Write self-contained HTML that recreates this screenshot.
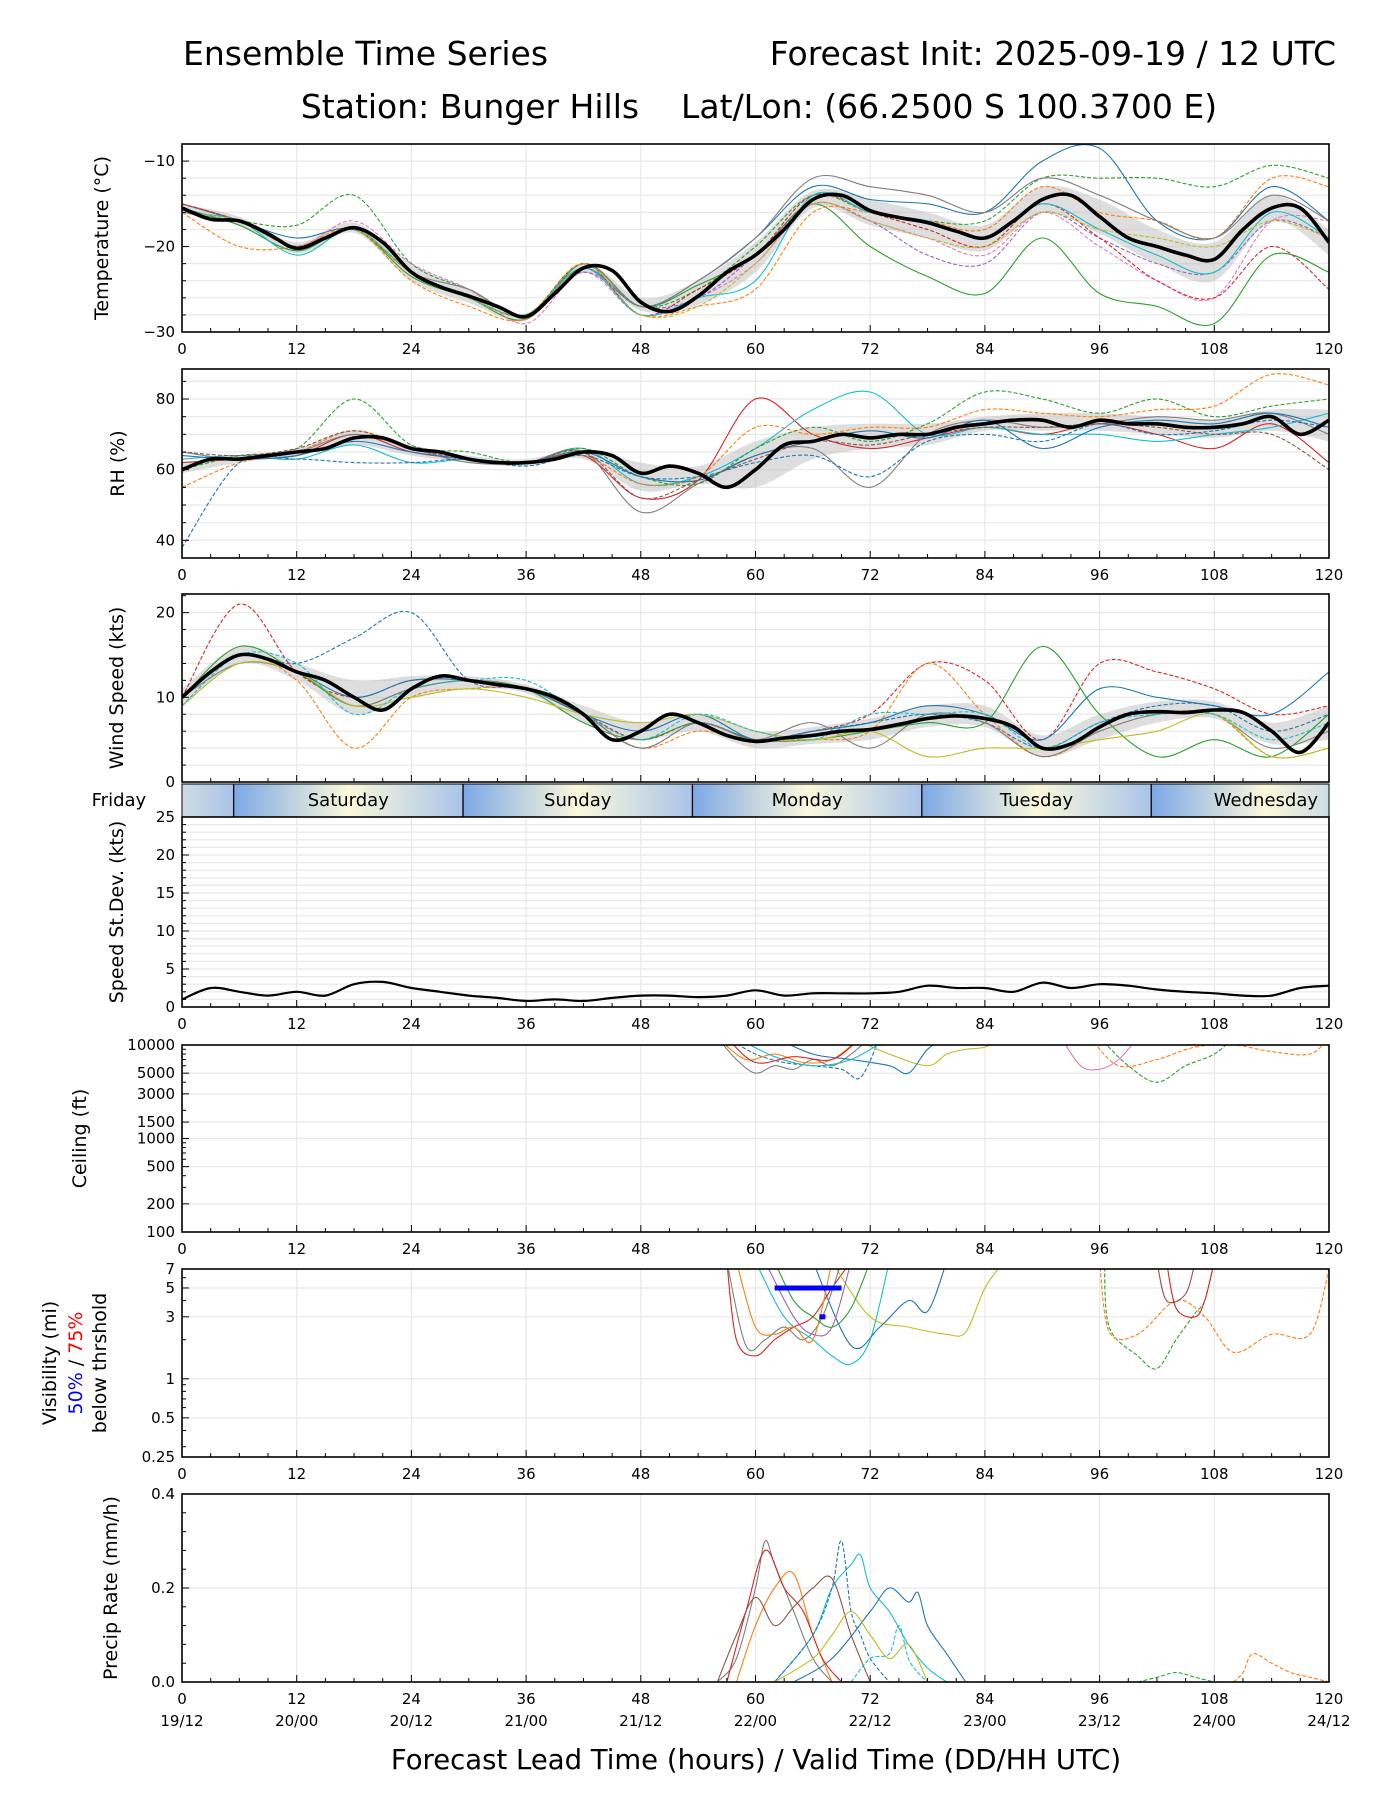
<!DOCTYPE html>
<html><head><meta charset="utf-8"><title>Ensemble Time Series</title>
<style>
html,body{margin:0;padding:0;background:#fff;}
svg{display:block;font-family:"DejaVu Sans","Liberation Sans",sans-serif;}
</style></head>
<body>
<svg id="chart" width="1400" height="1800" viewBox="0 0 1400 1800" xmlns="http://www.w3.org/2000/svg">
<rect width="1400" height="1800" fill="#fff"/>
<text x="183" y="65" font-size="33">Ensemble Time Series</text>
<text x="1336" y="65" font-size="33" text-anchor="end">Forecast Init: 2025-09-19 / 12 UTC</text>
<text x="759" y="118" font-size="33" text-anchor="middle" xml:space="preserve">Station: Bunger Hills    Lat/Lon: (66.2500 S 100.3700 E)</text>
<g id="layer"></g>
<text x="756" y="1769" font-size="27.5" text-anchor="middle">Forecast Lead Time (hours) / Valid Time (DD/HH UTC)</text>
</svg>
<script>
// ---------- data ----------
const hours3 = [0,3,6,9,12,15,18,21,24,27,30,33,36,39,42,45,48,51,54,57,60,63,66,69,72,75,78,81,84,87,90,93,96,99,102,105,108,111,114,117,120];
const hours6 = [0,6,12,18,24,30,36,42,48,54,60,66,72,78,84,90,96,102,108,114,120];
const xTicks = [0,12,24,36,48,60,72,84,96,108,120];
const dateLabels = ["19/12","20/00","20/12","21/00","21/12","22/00","22/12","23/00","23/12","24/00","24/12"];
const dayNames = ["Friday","Saturday","Sunday","Monday","Tuesday","Wednesday"];
const dayStarts = [5.4,29.4,53.4,77.4,101.4];

const tempMean = [-15.5,-16.8,-17,-18.5,-20.2,-19,-17.8,-19.5,-23,-24.7,-25.8,-27,-28.2,-25.5,-22.5,-22.8,-26.5,-27.6,-25.8,-23,-21,-18,-14.5,-14,-15.8,-16.6,-17.2,-18.2,-19,-17,-14.5,-14,-16.5,-19,-20,-21,-21.5,-18,-15.5,-15.5,-19.5];
const tempHi = [-15,-16.5,-19.5,-17.2,-22,-25,-27.8,-22,-26,-24,-19.5,-13.5,-14.5,-16,-17.5,-13,-14.5,-18,-19.5,-14,-18];
const tempLo = [-16,-17.5,-20.8,-18.4,-24,-26.6,-28.6,-23,-27.5,-26.8,-23,-15.5,-17.5,-19,-20.5,-16,-18.5,-22,-24,-17,-21];
const tempM1 = [-15,-17,-19,-18,-23,-26,-28,-22.5,-27,-24,-19,-13,-14.5,-15,-16,-10,-8.5,-17,-19,-13,-17];
const tempM2 = [-15.5,-17.5,-20.5,-18,-23.5,-26,-28.5,-22,-27,-24.5,-21,-15,-20,-23.5,-25.5,-19,-25.5,-27,-29,-21,-23];
const tempM3 = [-16,-17,-17.5,-14,-22,-25,-28,-22,-27,-25,-20,-14,-16,-17,-17,-12,-12,-12,-13,-10.5,-12];
const tempM4 = [-16,-20,-20,-18,-24,-27,-28.5,-22.5,-28,-27,-25,-16,-16,-17,-18,-13,-16,-17,-19,-12,-13];
const tempM5 = [-16,-17,-20,-17,-22,-25,-29,-23,-28,-26,-22,-15,-17,-19,-21,-16,-20,-24,-26,-17,-17];
const tempM6 = [-16,-17,-20,-18,-23,-26,-28,-23,-27,-26,-21,-15,-17,-21,-22,-16,-19,-22,-23,-17,-19];
const tempM7 = [-15,-17,-20,-18,-23,-25,-28,-22,-27,-24,-19,-12,-13,-14,-16,-12,-14,-17,-19,-14,-17];
const tempM8 = [-15,-17,-20,-18,-23,-26,-28,-22,-28,-25,-21,-14,-16,-18,-20,-15,-19,-24,-26,-20,-25];
const tempM9 = [-16,-17,-21,-18,-23,-26,-28,-22.5,-28,-26,-24,-14,-16,-17,-19,-15,-18,-21,-23,-16,-19];
const tempM10 = [-16,-17,-20,-18,-23,-26,-28,-22,-28,-27,-22,-15,-17,-19,-20,-16,-18,-19,-20,-17,-19];

const rhMean = [60,63,63,64,65,66,69,69,66,65,63,62,62,63,65,64,59,61,59,55,60,67,68,70,69,70,70,72,73,74,74,72,74,73,73,72,72,73,75,70,74];
const rhHi = [62,64,66,71,67,64,63,66,62,61,68,72,73,73,75,76,76,75,74,77,77];
const rhLo = [59,62,64,67,64,62,61,63,54,56,55,63,66,67,71,71,71,70,69,71,68];
const rhM1 = [62,63,64,70,65,63,62,64,52,57,80,70,66,69,72,70,73,70,66,73,62];
const rhM2 = [63,64,63,67,62,63,62,66,56,58,66,77,82,70,72,70,70,68,70,72,76];
const rhM3 = [65,63,65,70,66,62,62,65,48,56,64,66,55,70,74,72,73,75,74,76,70];
const rhM4 = [60,64,66,80,67,65,62,66,58,56,66,72,68,73,82,80,76,80,75,78,80];
const rhM5 = [55,62,65,71,66,63,62,64,56,58,72,70,72,72,77,76,75,77,78,87,84];
const rhM6 = [38,62,63,62,62,63,61,64,58,58,62,64,58,68,70,68,73,70,71,74,72];
const rhM7 = [64,63,64,68,65,63,62,65,58,57,64,68,71,69,74,66,72,74,73,76,72];
const rhM8 = [65,64,66,71,66,63,62,65,52,57,63,68,67,70,72,72,73,72,70,70,60];

const windMean = [10,13,15,14.5,13,12,10,8.5,11,12.5,12,11.5,11,10,8,5,6,8,7,5.5,4.8,5.2,5.5,6,6.2,6.8,7.5,7.8,7.5,6.5,4,4.5,6.5,8,8.3,8.2,8.5,8.2,6,3.5,7];
const windHi = [11,16,14,12,12.5,12.5,11.5,9,7,8,6,6.5,7.5,9,9,5.5,8,9.5,9.5,7,9];
const windLo = [9,14,12,8,10,11,10.5,7,5,6,4,4.5,5,6.5,6.5,3,5,7,7.5,4.5,5];
const windM1 = [10,21,13,10,12,12,11,8,5,7,5,6,8,14,12,5,14,13,11,8,9];
const windM2 = [10,16,13,9,11,12,11,7,5,7,5,5,6,7,7,16,8,3,5,3,8];
const windM3 = [10,15,14,17,20,12,11,8,4,7,5,6,7,8,7,4,7,9,9,6,8];
const windM4 = [10,15,13,10,12,12,11,8,6,8,5,6,7,9,8,5,11,10,9,8,13];
const windM5 = [10,15,12,4,10,11,11,8,4,6,5,5,6,14,8,3,6,8,8,3,4];
const windM6 = [10,14,13,9,11,12,11,8,4,7,5,7,4,8,7,3,6,8,8,4,6];
const windM7 = [9,14,13,9,10,11,10,8,7,8,6,5,6,3,4,4,5,6,8,3,4];
const windM8 = [9,15,14,8,11,12,12,8,5,8,6,5,8,8,8,4,7,8,8,5,7];

const sdev = [1,2.5,2,1.5,2,1.5,3,3.3,2.5,2,1.5,1.2,0.8,1,0.8,1.2,1.5,1.5,1.3,1.5,2.2,1.5,1.8,1.8,1.8,2,2.8,2.5,2.5,2,3.2,2.5,3,2.8,2.3,2,1.8,1.5,1.5,2.5,2.8];

const ceilH1=[56,58,60,62,64,66,68,70,72], ceilV1=[12000,7000,5000,6000,5500,7000,6000,8000,12000];
const ceilH2=[57,60,63,66,69,71,73], ceilV2=[12000,8000,6500,6000,5500,4500,12000];
const ceilH3=[70,74,78,80,82,84,86], ceilV3=[12000,8000,6000,8000,9000,9500,12000];
const ceilH4=[62,66,70,74,76,78,80], ceilV4=[12000,8000,7000,6000,5000,9000,12000];
const ceilH5=[96,99,102,105,108,110], ceilV5=[12000,6000,4000,6000,8000,12000];
const ceilH6=[92,94,96,98,100], ceilV6=[12000,6000,5500,7000,12000];
const ceilH7=[95,98,102,106,110,114,118,120], ceilV7=[12000,6000,7000,9500,10000,8500,8000,12000];
const ceilH8=[56,59,62,65,68,71], ceilV8=[12000,7000,8000,6500,7000,12000];
const ceilH9=[58,62,66,70,74], ceilV9=[12000,7500,6000,7000,12000];
const ceilH10=[57,60,64,68,71], ceilV10=[12000,6500,7500,7000,12000];

const visH1=[57,58,60,62,64,66,68,70], visV1=[8,2,1.5,2,2.5,3,5,8];
const visH2=[60,63,66,68,70,72,74], visV2=[8,3,2,1.5,1.3,2,8];
const visH3=[68,72,76,80,82,84,86], visV3=[8,3,2.5,2.2,2.3,5,8];
const visH4=[66,70,73,76,78,80], visV4=[8,1.8,2.5,4,3.3,8];
const visH5=[96.5,97,100,102,104,106,107,108], visV5=[8,2.5,1.5,1.2,2,3.2,4,8];
const visH6=[96,97,100,104,107,110,114,118,120], visV6=[8,2.3,2.2,4,3,1.6,2.2,2.2,7];
const visH7=[103,104,106,107,108], visV7=[8,3.5,3,4,8];
const visH8=[102,103,105,106], visV8=[8,4,4.5,8];
const visH9=[57,59,61,63,65,67,69], visV9=[8,1.8,2,2.5,2,3,8];
const visH10=[58,60,62,64,66,68], visV10=[8,2.5,2.2,2.5,2,8];
const visH11=[61,64,66,68,70], visV11=[8,3,2.2,2.5,8];
const visH12=[62,64,66,68,70,72], visV12=[8,4,3,2.5,3.5,8];
const vis50Start=62, vis50End=69, vis50Value=5;
const vis75Hour=67, vis75Value=3;

const prH1=[56,58,60,61,62,64,66,68], prV1=[0,0.05,0.2,0.3,0.25,0.15,0.05,0];
const prH2=[62,66,68,70,71,72,74,76,78,80], prV2=[0,0.1,0.2,0.25,0.27,0.2,0.15,0.08,0.03,0];
const prH3=[64,68,72,74,76,77,78,80,82], prV3=[0,0.05,0.15,0.2,0.17,0.19,0.12,0.06,0];
const prH4=[58,60,62,64,66,68], prV4=[0,0.12,0.2,0.23,0.1,0];
const prH5=[57,59,61,63,65,67,69], prV5=[0,0.15,0.28,0.2,0.15,0.05,0];
const prH6=[62,66,68,69,70,71,72,74], prV6=[0,0.1,0.2,0.3,0.15,0.1,0.05,0];
const prH7=[56,58,60,62,64,66,68,70,72], prV7=[0,0.1,0.18,0.12,0.16,0.2,0.22,0.1,0];
const prH8=[62,66,68,70,72,74,76,78], prV8=[0,0.05,0.1,0.15,0.1,0.05,0.08,0];
const prH9=[70,72,74,75,76,77,78], prV9=[0,0.05,0.06,0.12,0.05,0.02,0];
const prH10=[110,111,112,114,116,118,120], prV10=[0,0.02,0.06,0.04,0.02,0.01,0];
const prH11=[100,102,104,106,108], prV11=[0,0.01,0.02,0.01,0];

// ---------- drawing ----------
const NS="http://www.w3.org/2000/svg";
const layer=document.getElementById('layer');
const X0=182, X1=1329;
function xS(h){return X0+h*(X1-X0)/120;}
function mk(tag,attrs,parent){const e=document.createElementNS(NS,tag);for(const k in attrs)e.setAttribute(k,attrs[k]);(parent||layer).appendChild(e);return e;}
function yScale(p){return function(v){
  if(p.log){const a=Math.log10(p.ymin),b=Math.log10(p.ymax);return p.bot-(Math.log10(v)-a)/(b-a)*(p.bot-p.top);}
  return p.bot-(v-p.ymin)/(p.ymax-p.ymin)*(p.bot-p.top);};}
function smoothPath(pts){
  if(pts.length<2)return '';
  let d='M'+pts[0][0].toFixed(1)+','+pts[0][1].toFixed(1);
  for(let i=0;i<pts.length-1;i++){
    const p0=pts[i-1]||pts[i],p1=pts[i],p2=pts[i+1],p3=pts[i+2]||p2;
    const c1=[p1[0]+(p2[0]-p0[0])/6,p1[1]+(p2[1]-p0[1])/6];
    const c2=[p2[0]-(p3[0]-p1[0])/6,p2[1]-(p3[1]-p1[1])/6];
    d+='C'+c1[0].toFixed(1)+','+c1[1].toFixed(1)+' '+c2[0].toFixed(1)+','+c2[1].toFixed(1)+' '+p2[0].toFixed(1)+','+p2[1].toFixed(1);
  }
  return d;
}
let clipN=0;
function panel(p){
  const y=yScale(p);p.y=y;
  const g=mk('g',{});
  
  
  p.g=g;
  p.grid.forEach(v=>{const l=mk('line',{x1:X0,x2:X1,y1:y(v),y2:y(v),stroke:'#e8e8e8','stroke-width':1.2},g);
    });
  xTicks.forEach(h=>{const l=mk('line',{x1:xS(h),x2:xS(h),y1:p.top,y2:p.bot,stroke:'#e8e8e8','stroke-width':1.2},g);
    });
  const id='clip'+(clipN++);
  const cp=mk('clipPath',{id:id},g);mk('rect',{x:X0,y:p.top,width:X1-X0,height:p.bot-p.top},cp);
  p.plot=mk('g',{'clip-path':'url(#'+id+')'},g);
  
  
  return p;
}
function finishPanel(p,showX,hideXLabels){
  const g=p.g,y=p.y;
  const fr=mk('rect',{x:X0,y:p.top,width:X1-X0,height:p.bot-p.top,fill:'none',stroke:'#000','stroke-width':1.6},g);
  
  for(let h=0;h<=120;h+=3){const maj=h%12===0;const L=maj?7:4;
    const t=mk('line',{x1:xS(h),x2:xS(h),y1:p.bot,y2:p.bot-L,stroke:'#000','stroke-width':1},g);
    }
  p.ticks.forEach(v=>{const t=mk('line',{x1:X0,x2:X0+7,y1:y(v),y2:y(v),stroke:'#000','stroke-width':1},g);
    
    const tx=mk('text',{x:X0-7,y:y(v)+5,'font-size':15,'text-anchor':'end'},g);tx.textContent=(p.fmt?p.fmt(v):String(v)).replace('-','\u2212');
    });
  (p.minor||[]).forEach(v=>{const t=mk('line',{x1:X0,x2:X0+4,y1:y(v),y2:y(v),stroke:'#000','stroke-width':1},g);
    });
  if(!hideXLabels) xTicks.forEach((h,i)=>{const tx=mk('text',{x:xS(h),y:p.bot+22,'font-size':15,'text-anchor':'middle'},g);tx.textContent=h;
    
    if(showX){const d=mk('text',{x:xS(h),y:p.bot+44,'font-size':15,'text-anchor':'middle'},g);d.textContent=dateLabels[i];
      }});
  const cy=(p.top+p.bot)/2;
  p.label.forEach((ln,i)=>{const tx=mk('text',{x:0,y:0,'font-size':19,'text-anchor':'middle',transform:'translate('+ln.x+','+cy+') rotate(-90)'},g);
    
    ln.parts.forEach(pt=>{const s=mk('tspan',{fill:pt[1]||'#000'},tx);s.textContent=pt[0];});});
}
function line(p,hs,vs,color,dash,width,name){
  const pts=hs.map((h,i)=>[xS(h),p.y(vs[i])]);
  const a={d:smoothPath(pts),fill:'none',stroke:color,'stroke-width':width||1.2,'stroke-linejoin':'round'};
  if(dash)a['stroke-dasharray']='4,2';
  const e=mk('path',a,p.plot);
  
  
  return e;
}
function band(p,hs,lo,hi,name){
  const top=hs.map((h,i)=>[xS(h),p.y(hi[i])]);const bot=hs.map((h,i)=>[xS(h),p.y(lo[i])]).reverse();
  const d=smoothPath(top)+'L'+smoothPath(bot).slice(1)+'Z';
  const e=mk('path',{d:d,fill:'#bdbdbd','fill-opacity':0.5,stroke:'none'},p.plot);
  
  
}
const C=['#1f77b4','#ff7f0e','#2ca02c','#d62728','#9467bd','#8c564b','#e377c2','#7f7f7f','#bcbd22','#17becf'];

// Temperature
const pT=panel({name:'temperature',top:144,bot:332,ymin:-30,ymax:-8,ticks:[-30,-20,-10],minor:[-28,-26,-24,-22,-18,-16,-14,-12],grid:[-28,-26,-24,-22,-20,-18,-16,-14,-12,-10],label:[{x:108,parts:[['Temperature (°C)']]}]});
band(pT,hours6,tempLo,tempHi,'temperature-spread-band');
[[tempM1,C[0],0],[tempM2,C[2],0],[tempM3,C[2],1],[tempM4,C[1],1],[tempM5,C[6],1],[tempM6,C[4],1],[tempM7,C[7],0],[tempM8,C[3],1],[tempM9,C[9],0],[tempM10,C[8],1]].forEach((m,i)=>line(pT,hours6,m[0],m[1],m[2],1.1,'temperature-member-'+(i+1)));
line(pT,hours3,tempMean,'#000',0,3.6,'temperature-ensemble-mean');
finishPanel(pT,false);

// RH
const pR=panel({name:'rh',top:369,bot:558,ymin:35,ymax:88.5,ticks:[40,60,80],minor:[45,50,55,65,70,75,85],grid:[40,45,50,55,60,65,70,75,80,85],label:[{x:124,parts:[['RH (%)']]}]});
band(pR,hours6,rhLo,rhHi,'rh-spread-band');
[[rhM1,C[3],0],[rhM2,C[9],0],[rhM3,C[7],0],[rhM4,C[2],1],[rhM5,C[1],1],[rhM6,C[0],1],[rhM7,C[0],0],[rhM8,C[5],1]].forEach((m,i)=>line(pR,hours6,m[0],m[1],m[2],1.1,'rh-member-'+(i+1)));
line(pR,hours3,rhMean,'#000',0,3.6,'rh-ensemble-mean');
finishPanel(pR,false);

// Wind
const pW=panel({name:'wind-speed',top:594,bot:782,ymin:0,ymax:22.2,ticks:[0,10,20],minor:[2,4,6,8,12,14,16,18,22],grid:[2,4,6,8,10,12,14,16,18,20],label:[{x:123,parts:[['Wind Speed (kts)']]}]});
band(pW,hours6,windLo,windHi,'wind-spread-band');
[[windM1,C[3],1],[windM2,C[2],0],[windM3,C[0],1],[windM4,C[0],0],[windM5,C[1],1],[windM6,C[7],0],[windM7,C[8],0],[windM8,C[9],1]].forEach((m,i)=>line(pW,hours6,m[0],m[1],m[2],1.1,'wind-member-'+(i+1)));
line(pW,hours3,windMean,'#000',0,3.6,'wind-ensemble-mean');
finishPanel(pW,false,true);

// Day bar
(function(){
  const top=784,bot=817;
  const defs=mk('defs',{});
  const g=mk('g',{});
  const starts=[-18.6].concat(dayStarts);
  starts.forEach((s,i)=>{
    const gid='dayGrad'+i;
    const gr=mk('linearGradient',{id:gid,gradientUnits:'userSpaceOnUse',x1:xS(s),x2:xS(s+24),y1:0,y2:0},defs);
    mk('stop',{offset:'0','stop-color':'#7da8e6'},gr);mk('stop',{offset:'0.5','stop-color':'#fbf9dc'},gr);mk('stop',{offset:'1','stop-color':'#a9c4ea'},gr);
    const a=Math.max(s,0),b=Math.min(s+24,120);
    const r=mk('rect',{x:xS(a),y:top,width:xS(b)-xS(a),height:bot-top,fill:'url(#'+gid+')'},g);
    
    const t=mk('text',{x:xS(s+12),y:top+22,'font-size':18,'text-anchor':'middle'},g);t.textContent=dayNames[i];
    
  });
  dayStarts.forEach(h=>{const l=mk('line',{x1:xS(h),x2:xS(h),y1:top,y2:bot,stroke:'#000','stroke-width':1.3},g);});
  const fr=mk('rect',{x:X0,y:top,width:X1-X0,height:bot-top,fill:'none',stroke:'#000','stroke-width':1},g);
})();

// Std dev
const pS=panel({name:'speed-stdev',top:817,bot:1007,ymin:0,ymax:25,ticks:[0,5,10,15,20,25],minor:[1,2,3,4,6,7,8,9,11,12,13,14,16,17,18,19,21,22,23,24],grid:[1,2,3,4,5,6,7,8,9,10,11,12,13,14,15,16,17,18,19,20,21,22,23,24],label:[{x:123,parts:[['Speed St.Dev. (kts)']]}]});
line(pS,hours3,sdev,'#000',0,2.2,'speed-stdev-line');
finishPanel(pS,false);

// Ceiling
const pC=panel({name:'ceiling',top:1045,bot:1232,ymin:100,ymax:10000,log:true,ticks:[100,200,500,1000,1500,3000,5000,10000],minor:[300,400,600,700,800,900,2000,4000,6000,7000,8000,9000],grid:[200,500,1000,1500,3000,5000],label:[{x:86,parts:[['Ceiling (ft)']]}]});
[[ceilH1,ceilV1,C[7],0],[ceilH2,ceilV2,C[0],1],[ceilH3,ceilV3,C[8],0],[ceilH4,ceilV4,C[0],0],[ceilH5,ceilV5,C[2],1],[ceilH6,ceilV6,C[6],0],[ceilH7,ceilV7,C[1],1],[ceilH8,ceilV8,C[1],0],[ceilH9,ceilV9,C[9],0],[ceilH10,ceilV10,C[3],0]].forEach((m,i)=>line(pC,m[0],m[1],m[2],m[3],1.1,'ceiling-member-'+(i+1)));
finishPanel(pC,false);

// Visibility
const pV=panel({name:'visibility',top:1269,bot:1457,ymin:0.25,ymax:7,log:true,ticks:[0.25,0.5,1,3,5,7],minor:[0.3,0.4,0.6,0.7,0.8,0.9,2,4,6],grid:[0.5,1,3,5],label:[{x:56,parts:[['Visibility (mi)']]},{x:82,parts:[['50%','#0000ff'],[' / '],['75%','#ff0000']]},{x:106,parts:[['below thrshold']]}]});
[[visH1,visV1,C[3],0],[visH2,visV2,C[9],0],[visH3,visV3,C[8],0],[visH4,visV4,C[0],0],[visH5,visV5,C[2],1],[visH6,visV6,C[1],1],[visH7,visV7,C[3],0],[visH8,visV8,C[5],0],[visH9,visV9,C[7],0],[visH10,visV10,C[1],0],[visH11,visV11,C[4],0],[visH12,visV12,C[2],0]].forEach((m,i)=>line(pV,m[0],m[1],m[2],m[3],1.1,'visibility-member-'+(i+1)));
(function(){const e=mk('line',{x1:xS(vis50Start),x2:xS(vis50End),y1:pV.y(vis50Value),y2:pV.y(vis50Value),stroke:'#0000ff','stroke-width':5},pV.plot);

const d=mk('rect',{x:xS(vis75Hour)-3,y:pV.y(vis75Value)-2.5,width:6,height:5,fill:'#0000ff'},pV.plot);
})();
finishPanel(pV,false);

// Precip
const pP=panel({name:'precip-rate',top:1494,bot:1682,ymin:0,ymax:0.4,ticks:[0,0.2,0.4],minor:[0.04,0.08,0.12,0.16,0.24,0.28,0.32,0.36],grid:[0.2],fmt:v=>v.toFixed(1),label:[{x:117,parts:[['Precip Rate (mm/h)']]}]});
[[prH1,prV1,C[7],0],[prH2,prV2,C[9],0],[prH3,prV3,C[0],0],[prH4,prV4,C[1],0],[prH5,prV5,C[3],0],[prH6,prV6,C[0],1],[prH7,prV7,C[5],0],[prH8,prV8,C[8],0],[prH9,prV9,C[9],1],[prH10,prV10,C[1],1],[prH11,prV11,C[2],1]].forEach((m,i)=>line(pP,m[0],m[1],m[2],m[3],1.1,'precip-member-'+(i+1)));
finishPanel(pP,true);
</script>
</body></html>
